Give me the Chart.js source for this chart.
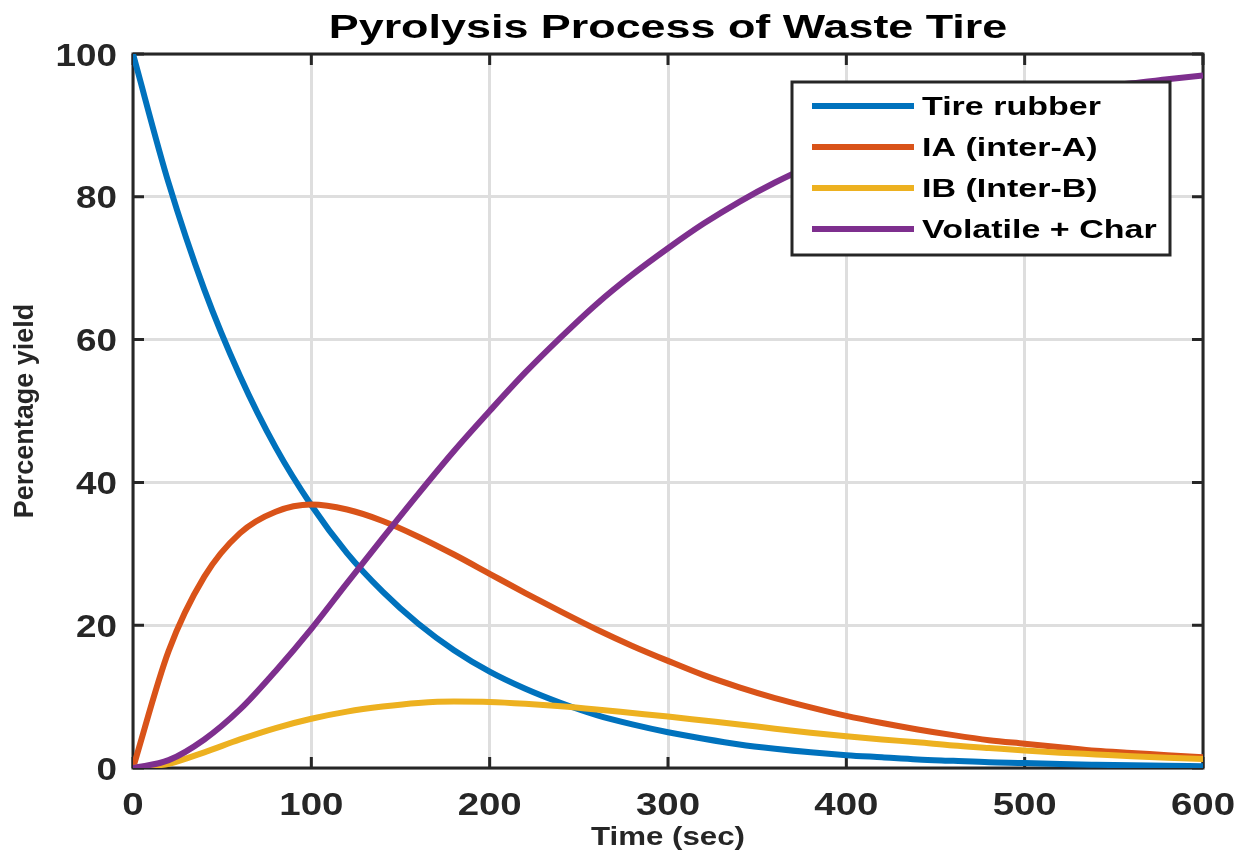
<!DOCTYPE html>
<html>
<head>
<meta charset="utf-8">
<script src="https://cdn.jsdelivr.net/npm/chart.js@4.4.0/dist/chart.umd.min.js"></script>
<style>
    html, body { margin: 0; padding: 0; background: #fff; }
</style>
</head>
<body>
<canvas id="pyroChart" width="1249" height="860"></canvas>
<script>
// ================= DATA =================
const times = [0, 20, 40, 60, 80, 100, 120, 140, 160, 180, 200, 220, 240, 260, 280, 300,
    320, 340, 360, 380, 400, 420, 440, 460, 480, 500, 520, 540, 560, 580, 600];
const tireRubber = [100, 81.9, 67.0, 54.9, 44.9, 36.8, 30.1, 24.7, 20.2, 16.5, 13.5, 11.1, 9.1, 7.4, 6.1, 5.0,
    4.1, 3.3, 2.7, 2.2, 1.8, 1.5, 1.2, 1.0, 0.8, 0.7, 0.55, 0.45, 0.37, 0.3, 0.25];
const interA = [0, 16.4, 26.8, 32.9, 35.9, 36.9, 36.2, 34.6, 32.4, 29.9, 27.2, 24.5, 21.9, 19.4, 17.1, 15.0,
    13.0, 11.3, 9.8, 8.5, 7.3, 6.3, 5.4, 4.6, 3.9, 3.4, 2.9, 2.4, 2.1, 1.8, 1.5];
const interB = [0, 0.6, 2.2, 4.0, 5.6, 6.9, 7.9, 8.6, 9.1, 9.3, 9.25, 9.0, 8.65, 8.2, 7.7, 7.2,
    6.65, 6.1, 5.5, 4.95, 4.45, 4.0, 3.6, 3.15, 2.8, 2.45, 2.15, 1.9, 1.65, 1.45, 1.25];
const volatileChar = [0, 1.1, 4.0, 8.2, 13.6, 19.5, 25.9, 32.2, 38.4, 44.4, 50.0, 55.4, 60.35, 65.0, 69.1, 72.8,
    76.25, 79.3, 82.0, 84.35, 86.45, 88.2, 89.8, 91.25, 92.5, 93.45, 94.4, 95.25, 95.9, 96.45, 97.0];
const seriesLabels = ["Tire rubber", "IA (inter-A)", "IB (Inter-B)", "Volatile + Char"];
const seriesColors = ["#0072BD", "#D95319", "#EDB120", "#7E2F8E"];
const xTicks = [0, 100, 200, 300, 400, 500, 600];
const yTicks = [0, 20, 40, 60, 80, 100];

const FONT = '"Liberation Sans", Arial, Helvetica, sans-serif';
const AXIS_COLOR = "#262626";

function drawText(ctx, s, x, y, o) {
    ctx.save();
    ctx.translate(x, y);
    if (o.rot) ctx.rotate(o.rot);
    ctx.scale(o.sx || 1, o.sy || 1);
    ctx.font = "bold " + o.size + "px " + FONT;
    ctx.fillStyle = o.color || AXIS_COLOR;
    ctx.textAlign = o.align || "center";
    ctx.textBaseline = "alphabetic";
    ctx.fillText(s, 0, 0);
    ctx.restore();
}

// box + inward ticks, drawn under the curves
const boxPlugin = {
    id: "box",
    beforeDatasetsDraw(chart) {
        const { ctx, chartArea: a, scales } = chart;
        ctx.save();
        ctx.strokeStyle = AXIS_COLOR;
        ctx.lineWidth = 3;
        ctx.beginPath();
        xTicks.forEach(v => {
            const px = scales.x.getPixelForValue(v);
            ctx.moveTo(px, a.bottom); ctx.lineTo(px, a.bottom - 11);
            ctx.moveTo(px, a.top); ctx.lineTo(px, a.top + 11);
        });
        yTicks.forEach(v => {
            const py = scales.y.getPixelForValue(v);
            ctx.moveTo(a.left, py); ctx.lineTo(a.left + 11, py);
            ctx.moveTo(a.right, py); ctx.lineTo(a.right - 11, py);
        });
        ctx.stroke();
        ctx.strokeRect(a.left, a.top, a.right - a.left, a.bottom - a.top);
        ctx.restore();
    }
};

// legend box inside the plot
const legendPlugin = {
    id: "boxLegend",
    afterDatasetsDraw(chart) {
        const { ctx } = chart;
        const bx = 792, by = 82, bw = 378, bh = 173;
        ctx.save();
        ctx.fillStyle = "#fff";
        ctx.fillRect(bx, by, bw, bh);
        ctx.strokeStyle = AXIS_COLOR;
        ctx.lineWidth = 3;
        ctx.strokeRect(bx, by, bw, bh);
        chart.data.datasets.forEach((ds, i) => {
            const ry = 106 + i * 41;
            ctx.strokeStyle = ds.borderColor;
            ctx.lineWidth = 6;
            ctx.beginPath();
            ctx.moveTo(812, ry);
            ctx.lineTo(914, ry);
            ctx.stroke();
            drawText(ctx, ds.label, 922, ry + 9, { size: 25, sx: 1.36, align: "left", color: "#000" });
        });
        ctx.restore();
    }
};

// title, axis titles and tick labels
const textPlugin = {
    id: "texts",
    afterDraw(chart) {
        const { ctx, chartArea: a, scales } = chart;
        const cx = (a.left + a.right) / 2;
        drawText(ctx, "Pyrolysis Process of Waste Tire", cx, 38, { size: 34, sx: 1.32, color: "#000" });
        xTicks.forEach(v => {
            drawText(ctx, String(v), scales.x.getPixelForValue(v), a.bottom + 47, { size: 32, sx: 1.2 });
        });
        yTicks.forEach(v => {
            drawText(ctx, String(v), a.left - 16, scales.y.getPixelForValue(v) + 11.5, { size: 32, sx: 1.15, align: "right" });
        });
        drawText(ctx, "Time (sec)", cx, 845, { size: 25, sx: 1.25 });
        drawText(ctx, "Percentage yield", 33, (a.top + a.bottom) / 2, { size: 27, rot: -Math.PI / 2 });
    }
};

const seriesData = [tireRubber, interA, interB, volatileChar];

new Chart(document.getElementById("pyroChart"), {
    type: "line",
    data: {
        datasets: seriesData.map((arr, i) => ({
            label: seriesLabels[i],
            data: times.map((t, j) => ({ x: t, y: arr[j] })),
            borderColor: seriesColors[i],
            backgroundColor: seriesColors[i],
            borderWidth: 6,
            pointRadius: 0,
            fill: false,
            cubicInterpolationMode: "monotone",
            order: 3 - i
        }))
    },
    options: {
        responsive: false,
        devicePixelRatio: 1,
        animation: false,
        layout: { padding: { top: 54, right: 46, left: 0, bottom: 0 } },
        plugins: {
            legend: { display: false },
            title: { display: false },
            tooltip: { enabled: false }
        },
        scales: {
            x: {
                type: "linear",
                min: 0,
                max: 600,
                ticks: { display: false, stepSize: 100 },
                grid: { color: "#dedede", lineWidth: 3, drawTicks: false },
                border: { display: false },
                afterFit(scale) { scale.height = 92; }
            },
            y: {
                type: "linear",
                min: 0,
                max: 100,
                ticks: { display: false, stepSize: 20 },
                grid: { color: "#dedede", lineWidth: 3, drawTicks: false },
                border: { display: false },
                afterFit(scale) { scale.width = 133; }
            }
        }
    },
    plugins: [boxPlugin, legendPlugin, textPlugin]
});
</script>
</body>
</html>
